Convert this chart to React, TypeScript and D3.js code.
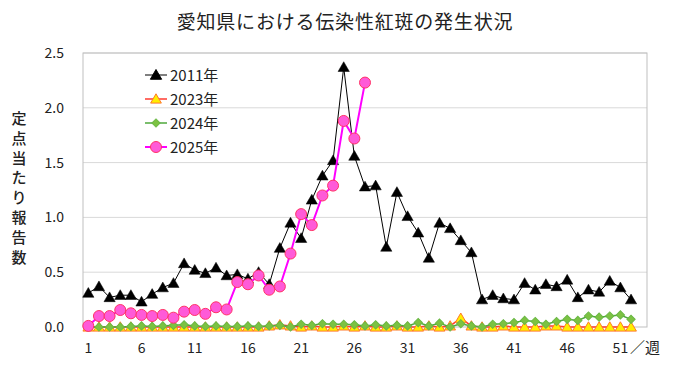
import { useEffect, useRef } from 'react';
import * as d3 from 'd3';

// ── Data ──

const TITLE = '愛知県における伝染性紅斑の発生状況';
const Y_LABEL = '定点当たり報告数';

const WEEK_TICKS = [1, 6, 11, 16, 21, 26, 31, 36, 41, 46, 51];
const Y_TICKS = [0, 0.5, 1.0, 1.5, 2.0, 2.5];

const Y2011 = [
  0.31, 0.37, 0.27, 0.29, 0.29, 0.23, 0.3, 0.36, 0.4, 0.58, 0.52, 0.49, 0.54,
  0.47, 0.48, 0.44, 0.5, 0.39, 0.72, 0.95, 0.81, 1.16, 1.38, 1.52, 2.37, 1.56,
  1.28, 1.29, 0.73, 1.23, 1.01, 0.86, 0.63, 0.95, 0.9, 0.79, 0.68, 0.25, 0.29,
  0.26, 0.25, 0.4, 0.34, 0.39, 0.37, 0.43, 0.27, 0.34, 0.32, 0.42, 0.36, 0.25,
];

const Y2023 = [
  0, 0, 0, 0, 0, 0, 0, 0, 0, 0, 0, 0, 0, 0, 0, 0, 0,
  0.01, 0.02, 0.01, 0, 0.01, 0, 0, 0.01, 0, 0.01, 0, 0, 0.01, 0, 0, 0.01, 0,
  0.01, 0.08, 0.01, 0, 0, 0.01, 0, 0, 0, 0.01, 0.01, 0, 0, 0, 0, 0, 0, 0,
];

const Y2024 = [
  0, 0, 0, 0, 0.005, 0.01, 0.005, 0.01, 0.015, 0.02, 0.01, 0.005, 0.01, 0.005,
  0.005, 0.01, 0.005, 0.01, 0.015, 0, 0.025, 0.015, 0.03, 0.025, 0.025, 0.02,
  0.01, 0.02, 0.01, 0.015, 0.01, 0.04, 0.01, 0.035, 0, 0.03, 0.01, 0, 0.025,
  0.03, 0.04, 0.06, 0.05, 0.025, 0.05, 0.07, 0.06, 0.1, 0.09, 0.1, 0.11, 0.07,
];

const Y2025 = [
  0.01, 0.1, 0.1, 0.155, 0.125, 0.11, 0.1, 0.11, 0.085, 0.14, 0.155, 0.12, 0.18,
  0.16, 0.41, 0.39, 0.47, 0.34, 0.37, 0.67, 1.03, 0.93, 1.2, 1.29, 1.88, 1.72,
  2.23,
];

// ── Series styles ──

type Marker = 'triangle' | 'diamond' | 'circle';

interface Series {
  name: string;
  values: number[];
  line: string;
  lineWidth: number;
  marker: Marker;
  size: number;
  fill: string;
  stroke: string;
}

const SERIES: Series[] = [
  { name: '2011年', values: Y2011, line: '#000', lineWidth: 1, marker: 'triangle', size: 55, fill: '#000', stroke: '#000' },
  { name: '2023年', values: Y2023, line: '#ff3b30', lineWidth: 1.5, marker: 'triangle', size: 50, fill: '#ffee00', stroke: '#ff7a2a' },
  { name: '2024年', values: Y2024, line: '#4fa83d', lineWidth: 1.5, marker: 'diamond', size: 34, fill: '#7cc242', stroke: '#6ab845' },
  { name: '2025年', values: Y2025, line: '#ff00ff', lineWidth: 2, marker: 'circle', size: 95, fill: '#ff5ad8', stroke: '#ff3366' },
];

const W = 690;
const H = 365;
const M = { left: 83, right: 647, top: 53, bottom: 327 };
const FONT = '"Noto Sans CJK JP", "Noto Sans", sans-serif';

// diamond = square turned 45deg (d3's symbolDiamond is too narrow)
const SYMBOLS: Record<Marker, d3.SymbolType> = {
  triangle: d3.symbolTriangle,
  diamond: d3.symbolSquare,
  circle: d3.symbolCircle,
};

const markerTransform = (m: Marker, px: number, py: number) =>
  m === 'diamond'
    ? `translate(${px},${py}) rotate(45)`
    : `translate(${px},${py + (m === 'triangle' ? 1 : 0)})`;

export default function App() {
  const svgRef = useRef<SVGSVGElement>(null);

  useEffect(() => {
    const svgEl = svgRef.current;
    if (!svgEl) return;
    const svg = d3.select(svgEl);
    svg.selectAll('*').remove();

    const x = d3.scaleLinear().domain([0.5, 53.5]).range([M.left, M.right]);
    const y = d3.scaleLinear().domain([0, 2.5]).range([M.bottom, M.top]);

    svg.append('rect').attr('width', W).attr('height', H).attr('fill', '#fff');

    // title
    svg
      .append('text')
      .attr('x', 345)
      .attr('y', 29)
      .attr('text-anchor', 'middle')
      .attr('font-size', '19px')
      .attr('fill', '#222')
      .attr('letter-spacing', '0.8px')
      .text(TITLE);

    // grid lines
    svg
      .selectAll('.grid')
      .data(Y_TICKS.filter((v) => v > 0))
      .enter()
      .append('line')
      .attr('x1', M.left)
      .attr('x2', M.right)
      .attr('y1', (d) => y(d))
      .attr('y2', (d) => y(d))
      .attr('stroke', '#d9d9d9')
      .attr('stroke-width', 1);

    // frame
    svg
      .append('rect')
      .attr('x', M.left)
      .attr('y', M.top)
      .attr('width', M.right - M.left)
      .attr('height', M.bottom - M.top)
      .attr('fill', 'none')
      .attr('stroke', '#bfbfbf')
      .attr('stroke-width', 1);

    // y ticks
    svg
      .selectAll('.ytick')
      .data(Y_TICKS)
      .enter()
      .append('text')
      .attr('x', 64)
      .attr('y', (d) => y(d) + 5)
      .attr('text-anchor', 'end')
      .attr('font-size', '14px')
      .attr('fill', '#222')
      .text((d) => d.toFixed(1));

    // y label (vertical, one char per line)
    svg
      .append('g')
      .selectAll('text')
      .data(Array.from(Y_LABEL))
      .enter()
      .append('text')
      .attr('x', 19)
      .attr('y', (_d, i) => 124 + i * 19.8)
      .attr('text-anchor', 'middle')
      .attr('font-size', '15px')
      .attr('font-weight', 500)
      .attr('fill', '#222')
      .text((d) => d);

    // x ticks
    svg
      .selectAll('.xtick')
      .data(WEEK_TICKS)
      .enter()
      .append('text')
      .attr('x', (d) => x(d))
      .attr('y', 353)
      .attr('text-anchor', 'middle')
      .attr('font-size', '14px')
      .attr('fill', '#222')
      .text((d) => String(d));
    svg
      .append('text')
      .attr('x', 630)
      .attr('y', 353)
      .attr('font-size', '15px')
      .attr('fill', '#222')
      .text('／週');

    // series
    SERIES.forEach((s) => {
      const pts = s.values.map((v, i) => [x(i + 1), y(v)] as [number, number]);
      svg
        .append('path')
        .attr('d', d3.line()(pts))
        .attr('fill', 'none')
        .attr('stroke', s.line)
        .attr('stroke-width', s.lineWidth);
      const sym = d3.symbol().type(SYMBOLS[s.marker]).size(s.size);
      svg
        .append('g')
        .selectAll('path')
        .data(pts)
        .enter()
        .append('path')
        .attr('d', sym() as string)
        .attr('transform', (p) => markerTransform(s.marker, p[0], p[1]))
        .attr('fill', s.fill)
        .attr('stroke', s.stroke)
        .attr('stroke-width', s.marker === 'triangle' && s.fill === '#000' ? 0.5 : 1);
    });

    // legend
    const lg = svg.append('g').selectAll('g').data(SERIES).enter().append('g')
      .attr('transform', (_d, i) => `translate(145,${75 + i * 24})`);
    lg.append('line')
      .attr('x1', 0)
      .attr('x2', 22)
      .attr('stroke', (d) => d.line)
      .attr('stroke-width', (d) => d.lineWidth);
    lg.append('path')
      .attr('d', (d) => d3.symbol().type(SYMBOLS[d.marker]).size(d.size)() as string)
      .attr('transform', (d) => markerTransform(d.marker, 11, 0))
      .attr('fill', (d) => d.fill)
      .attr('stroke', (d) => d.stroke);
    lg.append('text')
      .attr('x', 25)
      .attr('y', 5.5)
      .attr('font-size', '15px')
      .attr('fill', '#222')
      .text((d) => d.name);
  }, []);

  return (
    <svg
      ref={svgRef}
      width={W}
      height={H}
      style={{ position: 'absolute', left: 0, top: 0, display: 'block', fontFamily: FONT }}
    />
  );
}
